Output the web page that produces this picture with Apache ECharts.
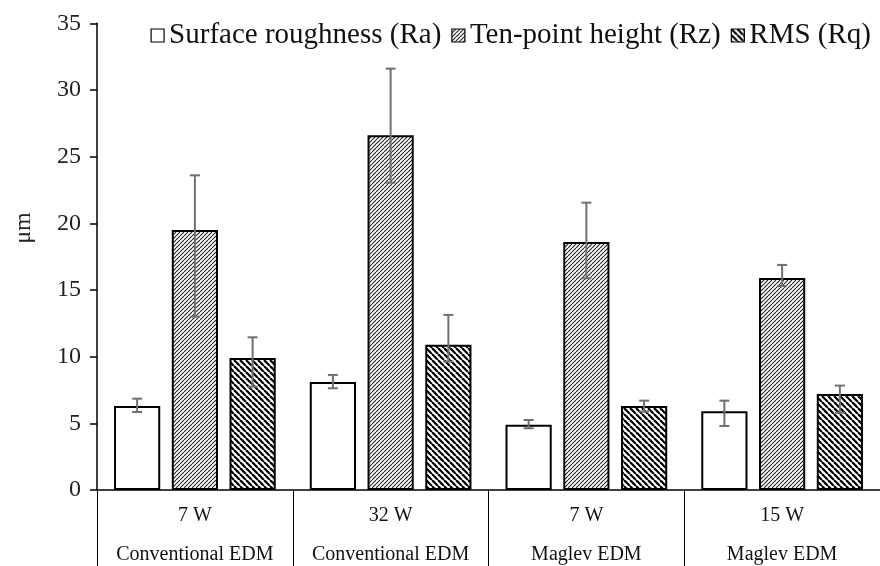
<!DOCTYPE html>
<html>
<head>
<meta charset="utf-8">
<script src="https://cdn.jsdelivr.net/npm/echarts@6/dist/echarts.min.js"></script>
<style>html,body{margin:0;padding:0;background:#fff}#c{width:880px;height:566px}</style>
</head>
<body>
<div id="c"></div>
<script>
// ---- data ----
const powers = ["7 W", "32 W", "7 W", "15 W"];
const machines = ["Conventional EDM", "Conventional EDM", "Maglev EDM", "Maglev EDM"];
const seriesNames = ["Surface roughness (Ra)", "Ten-point height (Rz)", "RMS (Rq)"];
const ra = [6.3, 8.1, 4.9, 5.9];
const rz = [19.5, 26.6, 18.6, 15.9];
const rq = [9.9, 10.9, 6.3, 7.2];
const raHigh = [6.85, 8.63, 5.25, 6.7];
const raLow = [5.85, 7.63, 4.63, 4.8];
const rzHigh = [23.6, 31.6, 21.55, 16.88];
const rzLow = [13.0, 23.05, 15.88, 15.3];
const rqHigh = [11.45, 13.13, 6.7, 7.83];
const rqLow = [7.75, 9.63, 5.88, 5.8];
const yTicks = [0, 5, 10, 15, 20, 25, 30, 35];

// ---- patterns ----
function hatch(size, lw, color, forward) {
  const c = document.createElement('canvas');
  c.width = size; c.height = size;
  const ctx = c.getContext('2d');
  ctx.fillStyle = '#fff'; ctx.fillRect(0, 0, size, size);
  ctx.strokeStyle = color; ctx.lineWidth = lw;
  for (let k = -1; k <= 1; k++) {
    ctx.beginPath();
    if (forward) { ctx.moveTo(k * size, size); ctx.lineTo(k * size + size, 0); }
    else { ctx.moveTo(k * size, 0); ctx.lineTo(k * size + size, size); }
    ctx.stroke();
  }
  return { image: c, repeat: 'repeat' };
}
const fills = ['#ffffff', hatch(4, 1.1, '#222', true), hatch(6, 2.2, '#000', false)];

const values = [ra, rz, rq];
const highs = [raHigh, rzHigh, rqHigh];
const lows = [raLow, rzLow, rqLow];
const BW = 0.236, GAP = 0.25;

const series = [];
values.forEach((v, s) => {
  series.push({
    name: seriesNames[s], type: 'bar', data: v,
    barWidth: (BW * 100) + '%', barGap: (GAP * 100) + '%',
    itemStyle: { color: fills[s], borderColor: '#000', borderWidth: 2 },
    emphasis: { disabled: true }
  });
});
const errData = [];
values.forEach((v, s) => v.forEach((_, i) => errData.push([i, lows[s][i], highs[s][i], s])));
series.push({
  type: 'custom', name: 'err', data: errData, z: 10,
  renderItem: function (params, api) {
    const i = api.value(0), s = api.value(3);
    const catW = api.size([1, 0])[0];
    const off = (s - 1) * catW * BW * (1 + GAP);
    const lo = api.coord([i, api.value(1)]);
    const hi = api.coord([i, api.value(2)]);
    const x = lo[0] + off, h = 5;
    const st = { stroke: '#707070', lineWidth: 2 };
    return { type: 'group', children: [
      { type: 'line', shape: { x1: x, y1: lo[1], x2: x, y2: hi[1] }, style: st },
      { type: 'line', shape: { x1: x - h, y1: lo[1], x2: x + h, y2: lo[1] }, style: st },
      { type: 'line', shape: { x1: x - h, y1: hi[1], x2: x + h, y2: hi[1] }, style: st }
    ]};
  }
});

const font = '"Liberation Serif", "Times New Roman", serif';
const chart = echarts.init(document.getElementById('c'), null, { renderer: 'canvas' });
chart.setOption({
  animation: false,
  backgroundColor: '#fff',
  textStyle: { fontFamily: font },
  grid: { left: 97, right: -7, top: 23.3, bottom: 76 },
  legend: {
    data: seriesNames, right: 4, top: 16, itemWidth: 13, itemHeight: 13, itemGap: 10,
    icon: 'rect',
    textStyle: { fontFamily: font, fontSize: 29, color: '#111' },
    itemStyle: { borderColor: '#000', borderWidth: 1.2 }
  },
  xAxis: {
    type: 'category',
    data: powers.map((p, i) => i),
    axisLine: { lineStyle: { color: '#000', width: 1.5 } },
    axisTick: { show: true, interval: 0, length: 76, lineStyle: { color: '#000', width: 1 } },
    axisLabel: {
      interval: 0, margin: 6,
      formatter: (v, i) => '{a|' + powers[i] + '}\n{b|' + machines[i] + '}',
      rich: {
        a: { fontFamily: font, fontSize: 20, color: '#111', lineHeight: 39 },
        b: { fontFamily: font, fontSize: 20, color: '#111', lineHeight: 39 }
      }
    }
  },
  yAxis: {
    type: 'value', min: yTicks[0], max: yTicks[yTicks.length - 1], interval: 5,
    axisLine: { show: true, lineStyle: { color: '#000', width: 1.5 } },
    axisTick: { show: true, length: 7, lineStyle: { color: '#000', width: 1.5 } },
    splitLine: { show: false },
    axisLabel: { fontFamily: font, fontSize: 24, color: '#222', margin: 16 }
  },
  graphic: [{
    type: 'text', x: 24, y: 228, rotation: Math.PI / 2,
    style: { text: 'μm', font: '24px ' + font, fill: '#222', align: 'center', verticalAlign: 'middle' }
  }],
  series: series
});
</script>
</body>
</html>
